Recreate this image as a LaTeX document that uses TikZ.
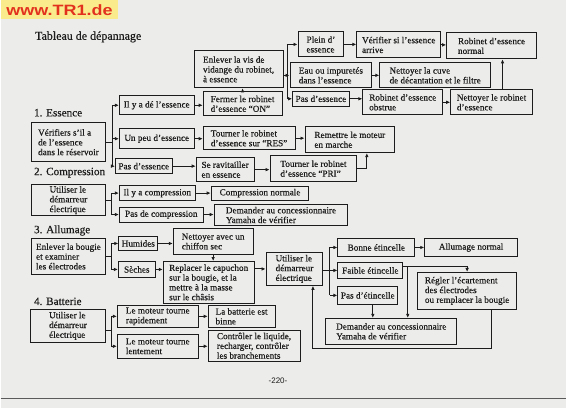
\documentclass[tikz,border=0pt]{standalone}
\usepackage{fontspec}
\setmainfont{Liberation Serif}[FakeBold=0.45]
\newfontfamily\sitefont{Liberation Sans}
\usetikzlibrary{arrows.meta}
\definecolor{manualpaper}{HTML}{ECECEA}
\definecolor{manualink}{HTML}{1C1C1C}
\definecolor{siteyellow}{HTML}{FAEC8C}
\definecolor{sitered}{HTML}{E2321E}
\definecolor{rulegrey}{HTML}{5A5A5A}

\begin{document}
\begin{tikzpicture}[
  x=1pt,
  y=-1pt,
  every node/.style={font=\fontsize{9.2}{9.8}\selectfont, text=manualink},
  box/.style 2 args={draw=manualink, line width=0.9pt, align=left,
    inner xsep=3pt, inner ysep=1pt, minimum width=#1, minimum height=#2},
  link/.style={draw=manualink, line width=0.9pt},
  arr/.style={link, -{Latex[length=4pt,width=3.6pt]}},
  heading/.style={anchor=west, font=\fontsize{11.2}{13}\selectfont}
]
  \fill[manualpaper] (0,0) rectangle (567,409);

  \fill[siteyellow] (0,0) rectangle (118,19);
  \node[text=sitered, font=\sitefont\bfseries\fontsize{15}{15}\selectfont,
    xscale=1.2, transform shape] (site) at (59,10) {www.TR1.de};

  \node[anchor=west, font=\fontsize{12}{14}\selectfont] (title) at (31,37) {Tableau de dépannage};

  \draw[rulegrey, line width=1.2pt] (0,399) -- (567,399);
  \node[font=\sitefont\fontsize{8}{8}\selectfont] (page) at (278,382) {-220-};

  \node[heading] (h1) at (30,113) {1. Essence};
  \node[heading] (h2) at (30,173) {2. Compression};
  \node[heading] (h3) at (30,231) {3. Allumage};
  \node[heading] (h4) at (30,302) {4. Batterie};

  \node[box={74}{39}] (verres) at (68,142.5) {Vérifiers s'il a\\de l'essence\\dans le réservoir};
  \node[box={75}{19}] (ilya) at (156.5,105.5) {Il y a dé l'essence};
  \node[box={75}{20}] (unpeu) at (156.5,139) {Un peu d'essence};
  \node[box={49}{15}] (pasa) at (143.5,166.5) {Pas d'essence};
  \node[box={79}{24}] (fermer) at (242.5,104) {Fermer le robinet\\d'essence ``ON''};
  \node[box={89}{37}] (vis) at (238.5,69.5) {Enlever la vis de\\vidange du robinet,\\à essence};
  \node[box={46}{25}] (plein) at (321,44.5) {Plein d'\\essence};
  \node[box={84}{26}] (verif) at (399,45) {Vérifier si l'essence\\arrive};
  \node[box={90}{26}] (normal) at (492,46) {Robinet d'essence\\normal};
  \node[box={82}{25}] (eau) at (331,75.5) {Eau ou impuretés\\dans l'essence};
  \node[box={111}{25}] (cuve) at (435.5,75.5) {Nettoyer la cuve\\de décantation et le filtre};
  \node[box={56}{15}] (pasb) at (321,99) {Pas d'essence};
  \node[box={80}{25}] (obstr) at (403,102.5) {Robinet d'essence\\obstrue};
  \node[box={82}{25}] (netrob) at (492,102.5) {Nettoyer le robinet\\d'essence};
  \node[box={92}{23}] (res) at (249,138.5) {Tourner le robinet\\d'essence sur ``RES''};
  \node[box={90}{26}] (remettre) at (350,140) {Remettre le moteur\\en marche};
  \node[box={58}{24}] (ravit) at (225,170) {Se ravitailler\\en essence};
  \node[box={87}{26}] (pri) at (313.5,169) {Tourner le robinet\\d'essence ``PRI''};

  \coordinate (ba) at (112,142.5);
  \draw[link] (verres.east) -- (ba);
  \draw[link] (ba |- ilya) -- (ba |- pasa);
  \draw[arr] (ba |- ilya) -- (ilya.west);
  \draw[arr] (ba |- unpeu) -- (unpeu.west);
  \draw[arr] (ba |- pasa) -- (pasa.west);
  \draw[arr] (ilya.east) -- (ilya.east -| fermer.west);
  \draw[arr] (unpeu.east) -- (unpeu.east -| res.west);
  \draw[arr] (pasa.east) -- (pasa.east -| ravit.west);
  \draw[arr] (fermer.north) -- (fermer.north |- vis.south);
  \coordinate (bb) at (287,75.5);
  \draw[link] (vis.east |- bb) -- (bb);
  \draw[link] (bb |- plein) -- (bb |- pasb);
  \draw[arr] (bb) -- (eau.west);
  \draw[arr] (bb |- plein) -- (plein.west);
  \draw[arr] (bb |- pasb) -- (pasb.west);
  \draw[arr] (plein.east) -- (plein.east -| verif.west);
  \draw[arr] (verif.east) -- (verif.east -| normal.west);
  \draw[arr] (eau.east) -- (eau.east -| cuve.west);
  \draw[arr] (pasb.east) -- (pasb.east -| obstr.west);
  \draw[arr] (obstr.east) -- (obstr.east -| netrob.west);
  \draw[arr] ([xshift=11pt]netrob.north) -- ([xshift=11pt]normal.south);
  \draw[arr] (res.east) -- (res.east -| remettre.west);
  \draw[arr] (ravit.east) -- (ravit.east -| pri.west);
  \draw[arr] (pri.east) -| ([xshift=17pt]remettre.south);

  \node[box={74}{31}] (demb) at (68,200.5) {Utiliser le\\démarreur\\électrique};
  \node[box={76}{15}] (ilyac) at (157,193.5) {Il y a compression};
  \node[box={84}{15}] (pasc) at (161,215) {Pas de compression};
  \node[box={98}{14}] (cnorm) at (260,193.5) {Compression normale};
  \node[box={134}{21}] (concb) at (281,215.5) {Demander au concessionnaire\\Yamaha de vérifier};

  \coordinate (bc) at (111,200.5);
  \draw[link] (demb.east) -- (bc);
  \draw[link] (bc |- ilyac) -- (bc |- pasc);
  \draw[arr] (bc |- ilyac) -- (ilyac.west);
  \draw[arr] (bc |- pasc) -- (pasc.west);
  \draw[arr] (ilyac.east) -- (ilyac.east -| cnorm.west);
  \draw[arr] (pasc.east) -- (pasc.east -| concb.west);

  \node[box={74}{36}] (bougie) at (68,257) {Enlever la bougie\\et examiner\\les électrodes};
  \node[box={38}{14}] (humides) at (138,244) {Humides};
  \node[box={80}{26}] (chiffon) at (213,242) {Nettoyer avec un\\chiffon sec};
  \node[box={37}{16}] (seches) at (136.5,270) {Sèches};
  \node[box={91}{42}] (capuchon) at (208.5,283) {Replacer le capuchon\\sur la bougie, et la\\mettre à la masse\\sur le châsis};
  \node[box={57}{33}] (demc) at (294.5,269.5) {Utiliser le\\démarreur\\électrique};
  \node[box={77}{18}] (bonne) at (376.5,248) {Bonne étincelle};
  \node[box={93}{18}] (allnorm) at (471.5,248) {Allumage normal};
  \node[box={65}{16}] (faible) at (370.5,271) {Faible étincelle};
  \node[box={60}{18}] (pasetin) at (368,296) {Pas d'étincelle};
  \node[box={99}{37}] (regler) at (467.5,291.5) {Régler l'écartement\\des électrodes\\ou remplacer la bougie};
  \node[box={131}{26}] (concc) at (391.5,332) {Demander au concessionnaire\\Yamaha de vérifier};

  \coordinate (bd) at (111,257);
  \draw[link] (bougie.east) -- (bd);
  \draw[link] (bd |- humides) -- (bd |- seches);
  \draw[arr] (bd |- humides) -- (humides.west);
  \draw[arr] (bd |- seches) -- (seches.west);
  \draw[arr] (humides.east) -- (humides.east -| chiffon.west);
  \draw[arr] (chiffon.south) -- (chiffon.south |- capuchon.north);
  \draw[arr] (seches.east) -- (seches.east -| capuchon.west);
  \draw[arr] (capuchon.east |- demc) -- (demc.west);
  \coordinate (be) at (330,271);
  \draw[link] (demc.east |- be) -- (be);
  \draw[link] (be |- bonne) -- (be |- pasetin);
  \draw[arr] (be |- bonne) -- (bonne.west);
  \draw[arr] (be) -- (faible.west);
  \draw[arr] (be |- pasetin) -- (pasetin.west);
  \draw[arr] (bonne.east) -- (bonne.east -| allnorm.west);
  \draw[arr] ([yshift=4pt]faible.east) -| (regler.north);
  \coordinate (fa) at (408,267);
  \draw[arr] (fa) -- (fa |- concc.north);
  \draw[arr] ([xshift=5pt]pasetin.south) -- ([xshift=5pt]pasetin.south |- concc.north);
  \coordinate (lp) at (313,349);
  \draw[arr] ([xshift=24.5pt]regler.south) |- (lp) -- (lp |- demc.south);

  \node[box={75}{33}] (demd) at (67.5,326.5) {Utiliser le\\démarreur\\électrique};
  \node[box={81}{22}] (rapide) at (157.5,317) {Le moteur tourne\\rapidement};
  \node[box={81}{24}] (lent) at (157.5,347) {Le moteur tourne\\lentement};
  \node[box={67}{22}] (binne) at (241.5,317) {La batterie est\\binne};
  \node[box={92}{31}] (controle) at (254,346.5) {Contrôler le liquide,\\recharger, contrôler\\les branchements};

  \coordinate (bf) at (111,331);
  \draw[link] (demd.east |- bf) -- (bf);
  \draw[link] (bf |- rapide) -- (bf |- lent);
  \draw[arr] (bf |- rapide) -- (rapide.west);
  \draw[arr] (bf |- lent) -- (lent.west);
  \draw[arr] (rapide.east) -- (rapide.east -| binne.west);
  \draw[arr] (lent.east) -- (lent.east -| controle.west);
\end{tikzpicture}
\end{document}
